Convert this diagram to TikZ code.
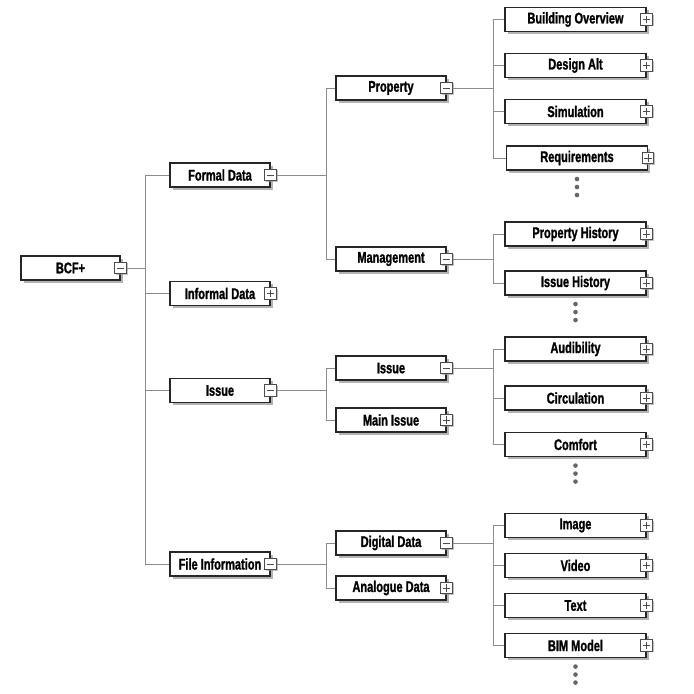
\documentclass[tikz,border=0pt]{standalone}
\usepackage{fontspec}
\setmainfont{Liberation Sans}[FakeStretch=0.71,FakeBold=1.2]
\usetikzlibrary{shadows}
\tikzstyle{elem}=[draw=black!85,line width=1.1pt,fill=white,minimum height=24pt,inner sep=0pt,font=\fontsize{15.5}{17}\selectfont\bfseries,drop shadow={shadow xshift=2.5pt,shadow yshift=-2.5pt,fill=black!50,opacity=0.6}]
\tikzstyle{lvlzero}=[elem,minimum width=99pt]
\tikzstyle{lvlone}=[elem,minimum width=100pt]
\tikzstyle{lvltwo}=[elem,minimum width=110pt]
\tikzstyle{lvlthree}=[elem,minimum width=141pt]
\tikzstyle{sign}=[draw=black!70,line width=0.8pt,fill=white,minimum size=11.5pt,inner sep=0pt,drop shadow={shadow xshift=1.2pt,shadow yshift=-1.2pt,fill=black!40,opacity=0.6}]
\tikzstyle{minus}=[sign,path picture={\draw[black!70,line width=0.8pt] ([xshift=2pt]path picture bounding box.west) -- ([xshift=-2pt]path picture bounding box.east);}]
\tikzstyle{plus}=[sign,path picture={\draw[black!70,line width=0.8pt] ([xshift=2pt]path picture bounding box.west) -- ([xshift=-2pt]path picture bounding box.east) ([yshift=-2pt]path picture bounding box.north) -- ([yshift=2pt]path picture bounding box.south);}]
\tikzstyle{link}=[draw=black!45,line width=0.8pt]
\tikzstyle{more}=[fill=black!60]
\begin{document}
\begin{tikzpicture}[x=1pt,y=-1pt]
    \useasboundingbox (0,0) rectangle (694,694);
    \coordinate (s1) at (145,0);
    \coordinate (s2) at (326,0);
    \coordinate (s3) at (493,0);

    % root and first level
    \node[lvlzero] (bcf) at (70.5,268) {BCF+};
    \node[lvlone] (formal)   at (220,175)   {Formal Data};
    \node[lvlone] (informal) at (220,293.5) {Informal Data};
    \node[lvlone] (issue)    at (220,390.5) {Issue};
    \node[lvlone] (fileinfo) at (220,564)   {File Information};

    % second level
    \node[lvltwo] (property)  at (391,88)  {Property};
    \node[lvltwo] (mgmt)      at (391,259) {Management};
    \node[lvltwo] (issuesub)  at (391,368) {Issue};
    \node[lvltwo] (mainissue) at (391,420) {Main Issue};
    \node[lvltwo] (digital)   at (391,543) {Digital Data};
    \node[lvltwo] (analogue)  at (391,588) {Analogue Data};

    % third level
    \node[lvlthree] (bldg)     at (575.5,19.5)  {Building Overview};
    \node[lvlthree] (design)   at (575.5,65.5)  {Design Alt};
    \node[lvlthree] (sim)      at (575.5,111.5) {Simulation};
    \node[lvlthree] (req)      at (577,158)     {Requirements};
    \node[lvlthree] (prophist) at (575.5,234)   {Property History};
    \node[lvlthree] (isshist)  at (575.5,283)   {Issue History};
    \node[lvlthree] (audib)    at (575.5,349)   {Audibility};
    \node[lvlthree] (circ)     at (575.5,398)   {Circulation};
    \node[lvlthree] (comfort)  at (575.5,444.5) {Comfort};
    \node[lvlthree] (image)    at (575.5,525.5) {Image};
    \node[lvlthree] (video)    at (575.5,565.5) {Video};
    \node[lvlthree] (text)     at (575.5,605.5) {Text};
    \node[lvlthree] (bim)      at (575.5,645.5) {BIM Model};

    % expand / collapse signs
    \foreach \n in {bcf,formal,issue,fileinfo,property,mgmt,issuesub,digital}
        \node[minus] (\n x) at (\n.east) {};
    \foreach \n in {informal,mainissue,analogue,bldg,design,sim,req,prophist,isshist,audib,circ,comfort,image,video,text,bim}
        \node[plus] (\n x) at (\n.east) {};

    % connectors
    \foreach \c in {formal,informal,issue,fileinfo}
        \draw[link] (bcfx.east) -- (bcfx.east -| s1) |- (\c.west);
    \foreach \c in {property,mgmt}
        \draw[link] (formalx.east) -- (formalx.east -| s2) |- (\c.west);
    \foreach \c in {issuesub,mainissue}
        \draw[link] (issuex.east) -- (issuex.east -| s2) |- (\c.west);
    \foreach \c in {digital,analogue}
        \draw[link] (fileinfox.east) -- (fileinfox.east -| s2) |- (\c.west);
    \foreach \c in {bldg,design,sim,req}
        \draw[link] (propertyx.east) -- (propertyx.east -| s3) |- (\c.west);
    \foreach \c in {prophist,isshist}
        \draw[link] (mgmtx.east) -- (mgmtx.east -| s3) |- (\c.west);
    \foreach \c in {audib,circ,comfort}
        \draw[link] (issuesubx.east) -- (issuesubx.east -| s3) |- (\c.west);
    \foreach \c in {image,video,text,bim}
        \draw[link] (digitalx.east) -- (digitalx.east -| s3) |- (\c.west);

    % more items follow
    \foreach \n in {req,isshist,comfort,bim}
        \foreach \d in {8.5,16.5,24.5}
            \fill[more] ([yshift=-\d pt]\n.south) circle (2.3pt);
\end{tikzpicture}
\end{document}
